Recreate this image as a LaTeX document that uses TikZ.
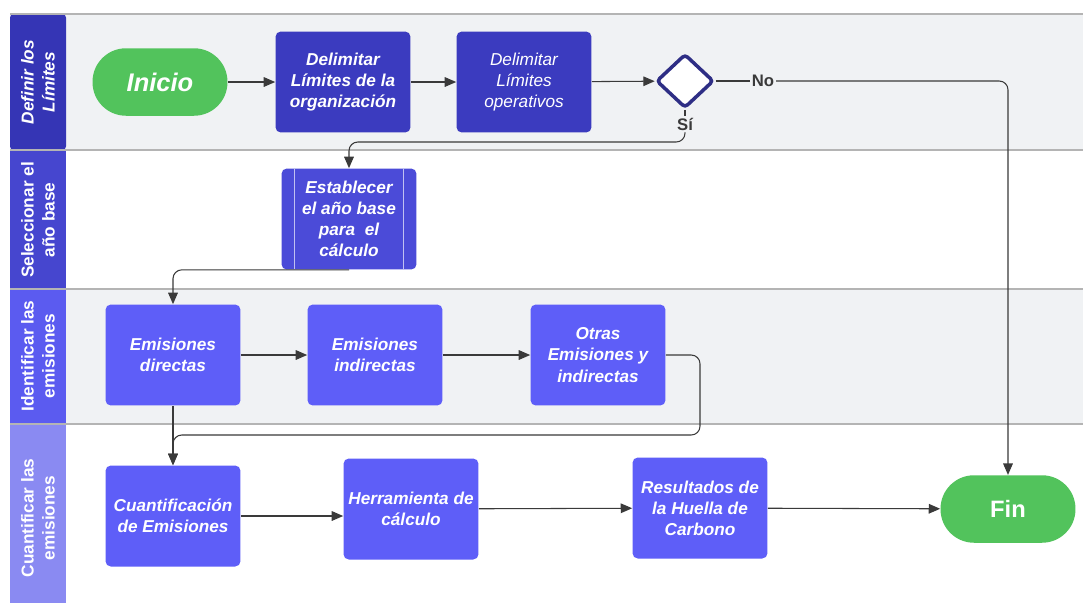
\documentclass[tikz,border=0pt]{standalone}
\usepackage{fontspec}
\setmainfont{Liberation Sans}
\usetikzlibrary{shapes.geometric, arrows.meta, positioning, calc}
\definecolor{hdrone}{HTML}{3535B5}
\definecolor{hdrtwo}{HTML}{4646CF}
\definecolor{hdrthree}{HTML}{5B5BF0}
\definecolor{hdrfour}{HTML}{8A8AF2}
\definecolor{boxdark}{HTML}{3B3BBF}
\definecolor{boxmid}{HTML}{4B4BD8}
\definecolor{boxlight}{HTML}{5E5EF8}
\definecolor{termgreen}{HTML}{52C35C}
\definecolor{lanegray}{HTML}{F0F2F4}
\definecolor{sepgray}{HTML}{B4B4B4}
\definecolor{linegray}{HTML}{3A3A3A}
\definecolor{decnavy}{HTML}{2E2E85}

\tikzset{
  procbox/.style={rectangle, rounded corners=3pt, minimum width=2.7cm, minimum height=2.02cm,
                  inner sep=1pt, text=white, align=center,
                  font=\fontsize{9.8}{12}\selectfont\bfseries\itshape},
  terminal/.style={rectangle, rounded corners=0.67cm, fill=termgreen, minimum width=2.7cm,
                   minimum height=1.35cm, text=white},
  lanehdr/.style={rotate=90, text=white, align=center,
                  font=\fontsize{9.8}{12}\selectfont\bfseries},
  flow/.style={draw=linegray, line width=0.6pt, rounded corners=5pt,
               -{Triangle[length=6.5pt, width=5.5pt]}},
  plain/.style={draw=linegray, line width=0.6pt},
  branch/.style={font=\fontsize{9.5}{10}\selectfont\bfseries, text=linegray, inner sep=1pt}
}

\begin{document}
\begin{tikzpicture}[x=0.02cm, y=-0.02cm]
    \useasboundingbox (0,0) rectangle (1083,603);
    % --- Carriles (fondos) ---
    \fill[lanegray] (66,14) rectangle (1083,150);
    \fill[white] (66,150) rectangle (1083,289);
    \fill[lanegray] (66,289) rectangle (1083,424);
    \fill[white] (66,424) rectangle (1083,603);
    % --- Cabeceras de carril ---
    \fill[hdrone, rounded corners=2pt] (10,14) rectangle (66,150);
    \fill[hdrtwo] (10,150) rectangle (66,289);
    \fill[hdrthree] (10,289) rectangle (66,424);
    \fill[hdrfour] (10,424) rectangle (66,603);
    \node[lanehdr, font=\fontsize{9.8}{12}\selectfont\bfseries\itshape] (hdra) at (38,82) {Definir los\\Límites};
    \node[lanehdr] (hdrb) at (38,220) {Seleccionar el\\año base};
    \node[lanehdr] (hdrc) at (38,356) {Identificar las\\emisiones};
    \node[lanehdr] (hdrd) at (38,518) {Cuantificar las\\emisiones};
    % --- Divisores ---
    \foreach \y in {14,150,289,424} { \draw[sepgray, line width=0.8pt] (10,\y) -- (1083,\y); }
    % --- Definir los limites ---
    \node[terminal, font=\fontsize{14.5}{16}\selectfont\bfseries\itshape] (inicio) at (160,82) {Inicio};
    \node[procbox, fill=boxdark] (limorg) at (343,82) {Delimitar\\Límites de la\\organización};
    \node[procbox, fill=boxdark, font=\fontsize{9.8}{12}\selectfont\itshape] (limop) at (524,82) {Delimitar\\Límites\\operativos};
    \node[diamond, draw=decnavy, line width=2pt, fill=white, rounded corners=2pt,
          minimum width=1.15cm, minimum height=1.08cm, inner sep=0pt] (dec) at (685,81) {};
    \node[branch, fill=lanegray] (nolbl) at (763,81) {No};
    \node[branch, fill=lanegray] (silbl) at (685,124) {Sí};
    % --- Seleccionar el ano base ---
    \node[procbox, fill=boxmid] (anobase) at (349,219) {Establecer\\el año base\\para~ el\\cálculo};
    \draw[white!65!boxmid, line width=0.5pt]
      ([xshift=0.26cm]anobase.north west) -- ([xshift=0.26cm]anobase.south west);
    \draw[white!65!boxmid, line width=0.5pt]
      ([xshift=-0.26cm]anobase.north east) -- ([xshift=-0.26cm]anobase.south east);
    % --- Identificar las emisiones ---
    \node[procbox, fill=boxlight] (directas) at (173,355) {Emisiones\\directas};
    \node[procbox, fill=boxlight] (indirectas) at (375,355) {Emisiones\\indirectas};
    \node[procbox, fill=boxlight] (otras) at (598,355) {Otras\\Emisiones y\\indirectas};
    % --- Cuantificar las emisiones ---
    \node[procbox, fill=boxlight] (cuant) at (173,516) {Cuantificación\\de Emisiones};
    \node[procbox, fill=boxlight] (herram) at (411,509) {Herramienta de\\cálculo};
    \node[procbox, fill=boxlight] (result) at (700,508) {Resultados de\\la Huella de\\Carbono};
    \node[terminal, font=\fontsize{13.5}{15}\selectfont\bfseries] (fin) at (1008,509) {Fin};
    % Conexiones
    \coordinate (sibend) at (685,142);
    \coordinate (otbend) at (700,435);
    \draw[flow] (inicio) -- (limorg);
    \draw[flow] (limorg) -- (limop);
    \draw[flow] (limop) -- (dec);
    \draw[plain] (dec.east) -- (nolbl.west);
    \draw[flow] (nolbl.east) -| (fin.north);
    \draw[plain] (dec.south) -- (silbl.north);
    \draw[flow] (silbl.south) -- (sibend) -| (anobase.north);
    \draw[flow] (anobase.south) -| (directas.north);
    \draw[flow] (directas) -- (indirectas);
    \draw[flow] (indirectas) -- (otras);
    \draw[flow] (directas.south) -- (cuant.north);
    \draw[flow] (otras.east) -| (otbend) -| (cuant.north);
    \draw[flow] (cuant.east) -- (cuant.east -| herram.west);
    \draw[flow] (herram) -- (result);
    \draw[flow] (result) -- (fin);
  \end{tikzpicture}
\end{document}
